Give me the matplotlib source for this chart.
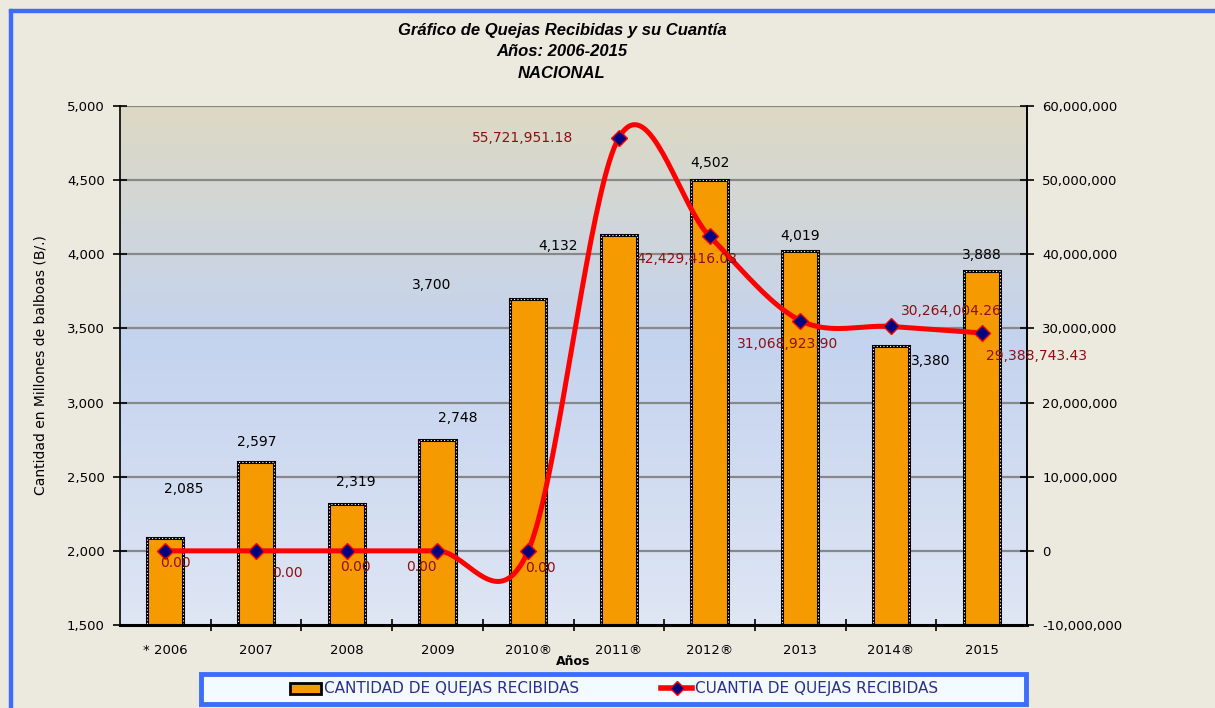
import numpy as np
import matplotlib
matplotlib.use("Agg")
import matplotlib.pyplot as plt
from matplotlib.colors import LinearSegmentedColormap
from matplotlib.lines import Line2D
from matplotlib.patches import Patch, FancyBboxPatch, Rectangle
from matplotlib.ticker import FuncFormatter, MultipleLocator

years = ["* 2006", "2007", "2008", "2009", "2010\u00ae", "2011\u00ae",
         "2012\u00ae", "2013", "2014\u00ae", "2015"]
quejas = [2085, 2597, 2319, 2748, 3700, 4132, 4502, 4019, 3380, 3888]
cuantia = [0.00, 0.00, 0.00, 0.00, 0.00, 55721951.18, 42429416.03,
           31068923.90, 30264004.26, 29388743.43]

# label offsets in pixels (dx, dy) as placed in the original
bar_lab_off = [(18, 49), (1, 20), (9, 22), (20, 22), (-97, 14), (-61, -11),
               (0, 17), (0, 15), (40, -15), (0, 16)]
line_lab_off = [(10, -12), (31, -22), (9, -16), (-16, -16), (12, -17),
                (-96, 0), (-23, -23), (-13, -23), (60, 15), (55, -23)]

BG = "#ECE9DF"
BLUE = "#3D6CFF"
RED = "#8B1010"


def smooth(xs, ys, n=40):
    # excel-like smoothed line (bezier through points, tension 1/6)
    px, py = [], []
    m = len(xs)
    for i in range(m - 1):
        x0, y0 = (xs[i - 1], ys[i - 1]) if i > 0 else (xs[i], ys[i])
        x3, y3 = (xs[i + 2], ys[i + 2]) if i + 2 < m else (xs[i + 1], ys[i + 1])
        x1, y1 = xs[i], ys[i]
        x2, y2 = xs[i + 1], ys[i + 1]
        c1 = (x1 + (x2 - x0) / 6, y1 + (y2 - y0) / 6)
        c2 = (x2 - (x3 - x1) / 6, y2 - (y3 - y1) / 6)
        t = np.linspace(0, 1, n)
        bx = (1 - t) ** 3 * x1 + 3 * (1 - t) ** 2 * t * c1[0] + 3 * (1 - t) * t ** 2 * c2[0] + t ** 3 * x2
        by = (1 - t) ** 3 * y1 + 3 * (1 - t) ** 2 * t * c1[1] + 3 * (1 - t) * t ** 2 * c2[1] + t ** 3 * y2
        px.extend(bx)
        py.extend(by)
    return np.array(px), np.array(py)


plt.rcParams['font.family'] = ['DejaVu Sans']
fig = plt.figure(figsize=(12.15, 7.08), dpi=100, facecolor=BG)
ax = fig.add_axes([120 / 1215, 1 - 625 / 708, 907 / 1215, 519 / 708])
ax.set_facecolor("none")

# frame lines of the chart window
fig.patches.append(Rectangle((9 / 1215, 0), 3 / 1215, 1 - 9 / 708,
                             transform=fig.transFigure, color=BLUE, zorder=0))
fig.patches.append(Rectangle((9 / 1215, 1 - 12 / 708), 1, 3 / 708,
                             transform=fig.transFigure, color=BLUE, zorder=0))

x = np.arange(len(years))
ax.set_xlim(-0.5, len(years) - 0.5)
ax.set_ylim(1500, 5000)

# gradient background
cmap = LinearSegmentedColormap.from_list(
    "bg", [(0, "#DFE6F4"), (0.55, "#C4D3EE"), (1, "#DDD9C4")])
grad = np.linspace(0, 1, 256).reshape(-1, 1)
ax.imshow(grad, cmap=cmap, origin="lower", aspect="auto",
          extent=[-0.5, len(years) - 0.5, 1500, 5000], zorder=0)

for v in np.arange(2000, 5001, 500):
    ax.axhline(v, color="#888888", lw=1.6, zorder=1)

ax.bar(x, [q - 1500 for q in quejas], bottom=1500, width=0.4,
       color="#F59A00", edgecolor="black", lw=2.2, zorder=2)
ax.bar(x, [q - 1500 for q in quejas], bottom=1500, width=0.4,
       fill=False, edgecolor="white", lw=0.8, ls=(0, (1, 2)), zorder=2)

for xi, q, (dx, dy) in zip(x, quejas, bar_lab_off):
    ax.annotate(f"{q:,}", (xi, q), xytext=(dx * 0.72, dy * 0.72),
                textcoords="offset points", ha="center", va="center",
                fontsize=10, color="black", zorder=5)

ax.yaxis.set_major_locator(MultipleLocator(500))
ax.yaxis.set_major_formatter(FuncFormatter(lambda v, p: f"{v:,.0f}"))
ax.set_xticks(x)
ax.set_xticklabels(years)
ax.set_xticks(np.arange(0.5, len(years) - 1, 1), minor=True)
ax.tick_params(axis="x", which="major", length=0, pad=14, labelsize=9.5)
ax.tick_params(axis="x", which="minor", length=8, direction="inout", width=1.2)
ax.tick_params(axis="y", length=10, direction="inout", width=1.2,
               labelsize=9.5, pad=6)
ax.spines["top"].set_visible(False)
ax.spines["bottom"].set_linewidth(2.2)
ax.spines["left"].set_linewidth(1.2)
ax.spines["right"].set_linewidth(1.2)
ax.set_ylabel("Cantidad en Millones de balboas (B/.)", fontsize=10, labelpad=14)
ax.set_xlabel("A\u00f1os", fontsize=9, fontweight="bold", labelpad=-2)

ax2 = ax.twinx()
ax2.set_ylim(-10000000, 60000000)
ax2.yaxis.set_major_locator(MultipleLocator(10000000))
ax2.yaxis.set_major_formatter(FuncFormatter(lambda v, p: f"{v:,.0f}"))
ax2.tick_params(axis="y", length=10, direction="inout", width=1.2,
                labelsize=9.5, pad=6)
for s in ["top", "left", "bottom"]:
    ax2.spines[s].set_visible(False)
ax2.spines["right"].set_linewidth(1.2)

sx, sy = smooth(x.astype(float), np.array(cuantia))
ax2.plot(sx, sy, color="#FF0000", lw=3.6, solid_capstyle="round", zorder=3)
ax2.plot(x, cuantia, ls="none", marker="D", ms=8, mfc="#000080",
         mec="#FF0000", mew=1, zorder=4)
for xi, c, (dx, dy) in zip(x, cuantia, line_lab_off):
    ax2.annotate(f"{c:,.2f}", (xi, c), xytext=(dx * 0.72, dy * 0.72),
                 textcoords="offset points", ha="center", va="center",
                 fontsize=10, color=RED, zorder=5)

title_kw = dict(ha="center", va="center", fontsize=12, fontweight="bold",
                style="italic", family="Liberation Sans")
fig.text(562 / 1215, 1 - 30 / 708,
         "Gr\u00e1fico de Quejas Recibidas y su Cuant\u00eda", **title_kw)
fig.text(562 / 1215, 1 - 51 / 708, "A\u00f1os: 2006-2015", **title_kw)
fig.text(562 / 1215, 1 - 73 / 708, "NACIONAL", **title_kw)

# legend box
fig.patches.append(FancyBboxPatch((201 / 1215, 4 / 708), 825 / 1215, 30 / 708,
                                  boxstyle="square,pad=0", transform=fig.transFigure,
                                  facecolor="#F2FBFF", edgecolor=BLUE, lw=3.5,
                                  zorder=1))
handles = [Patch(facecolor="#F59A00", edgecolor="black", lw=2),
           Line2D([], [], color="#FF0000", lw=4, marker="D", ms=7,
                  mfc="#000080", mec="#FF0000")]
leg = fig.legend(handles, ["CANTIDAD DE QUEJAS RECIBIDAS",
                           "CUANTIA DE QUEJAS RECIBIDAS"],
                 loc="center", bbox_to_anchor=(614 / 1215, 19 / 708), ncol=2,
                 frameon=False, fontsize=11, handlelength=2.0,
                 handletextpad=0.2, columnspacing=5.4)
for t in leg.get_texts():
    t.set_color("#2E2E8F")

fig.savefig("out.png", dpi=100, facecolor=BG)
